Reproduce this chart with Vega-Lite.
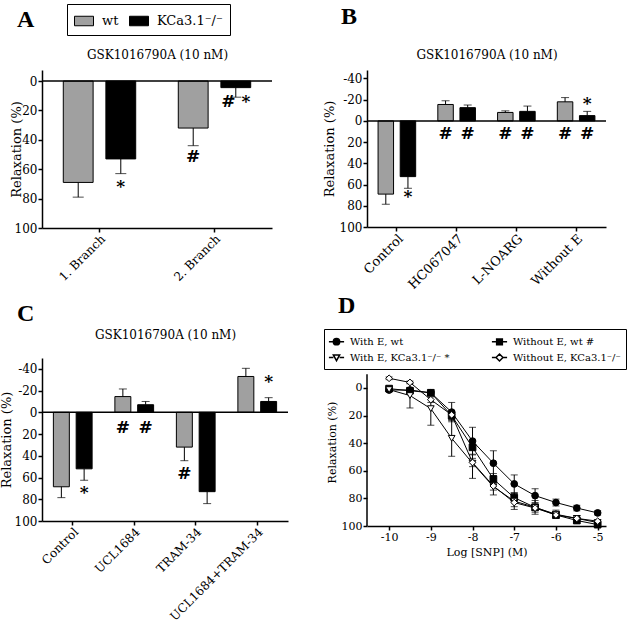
{
 "$schema": "https://vega.github.io/schema/vega-lite/v6.json",
 "background": "white",
 "padding": {"left": 0, "top": 3, "right": 0, "bottom": 0},
 "columns": 2,
 "bounds": "flush",
 "align": "each",
 "spacing": {"row": 130, "column": 79},
 "resolve": {"scale": {"fill": "independent", "shape": "independent", "xOffset": "independent"}},
 "datasets": {
  "A": [
   {"cat": "1. Branch", "g": "wt", "v": 69, "e": 79},
   {"cat": "1. Branch", "g": "KCa3.1⁻/⁻", "v": 53, "e": 63},
   {"cat": "2. Branch", "g": "wt", "v": 32, "e": 44},
   {"cat": "2. Branch", "g": "KCa3.1⁻/⁻", "v": 4.5, "e": 11}
  ],
  "At": [
   {"cat": "1. Branch", "g": "KCa3.1⁻/⁻", "y": 72, "t": "*"},
   {"cat": "2. Branch", "g": "wt", "y": 52, "t": "#"},
   {"cat": "2. Branch", "g": "KCa3.1⁻/⁻", "y": 14, "t": "# *"}
  ],
  "B": [
   {"cat": "Control", "g": "wt", "v": 69, "e": 78.5},
   {"cat": "Control", "g": "KCa3.1⁻/⁻", "v": 52.5, "e": 63.5},
   {"cat": "HC067047", "g": "wt", "v": -15.5, "e": -19},
   {"cat": "HC067047", "g": "KCa3.1⁻/⁻", "v": -12.5, "e": -15},
   {"cat": "L-NOARG", "g": "wt", "v": -8, "e": -9.5},
   {"cat": "L-NOARG", "g": "KCa3.1⁻/⁻", "v": -9, "e": -14},
   {"cat": "Without E", "g": "wt", "v": -18, "e": -22},
   {"cat": "Without E", "g": "KCa3.1⁻/⁻", "v": -5, "e": -9}
  ],
  "Bt": [
   {"cat": "Control", "g": "KCa3.1⁻/⁻", "y": 71.5, "t": "*"},
   {"cat": "HC067047", "g": "wt", "y": 12.5, "t": "#"},
   {"cat": "HC067047", "g": "KCa3.1⁻/⁻", "y": 12.5, "t": "#"},
   {"cat": "L-NOARG", "g": "wt", "y": 12.5, "t": "#"},
   {"cat": "L-NOARG", "g": "KCa3.1⁻/⁻", "y": 12.5, "t": "#"},
   {"cat": "Without E", "g": "wt", "y": 12.5, "t": "#"},
   {"cat": "Without E", "g": "KCa3.1⁻/⁻", "y": 12.5, "t": "#"},
   {"cat": "Without E", "g": "KCa3.1⁻/⁻", "y": -16, "t": "*"}
  ],
  "C": [
   {"cat": "Control", "g": "wt", "v": 68.5, "e": 78.5},
   {"cat": "Control", "g": "KCa3.1⁻/⁻", "v": 52, "e": 62.5},
   {"cat": "UCL1684", "g": "wt", "v": -14.5, "e": -21.5},
   {"cat": "UCL1684", "g": "KCa3.1⁻/⁻", "v": -7, "e": -10},
   {"cat": "TRAM-34", "g": "wt", "v": 32, "e": 44.5},
   {"cat": "TRAM-34", "g": "KCa3.1⁻/⁻", "v": 73, "e": 84},
   {"cat": "UCL1684+TRAM-34", "g": "wt", "v": -33, "e": -40.5},
   {"cat": "UCL1684+TRAM-34", "g": "KCa3.1⁻/⁻", "v": -10, "e": -13.5}
  ],
  "Ct": [
   {"cat": "Control", "g": "KCa3.1⁻/⁻", "y": 74, "t": "*"},
   {"cat": "UCL1684", "g": "wt", "y": 14.5, "t": "#"},
   {"cat": "UCL1684", "g": "KCa3.1⁻/⁻", "y": 14.5, "t": "#"},
   {"cat": "TRAM-34", "g": "wt", "y": 57, "t": "#"},
   {"cat": "UCL1684+TRAM-34", "g": "KCa3.1⁻/⁻", "y": -28, "t": "*"}
  ],
  "D": [
   {"s": "With E, wt", "x": -10, "y": 1.5, "err": 1},
   {"s": "With E, wt", "x": -9.5, "y": 1.5, "err": 1},
   {"s": "With E, wt", "x": -9, "y": 3.5, "err": 1},
   {"s": "With E, wt", "x": -8.5, "y": 17.5, "err": 7},
   {"s": "With E, wt", "x": -8, "y": 38.5, "err": 10},
   {"s": "With E, wt", "x": -7.5, "y": 54.5, "err": 9},
   {"s": "With E, wt", "x": -7, "y": 69.5, "err": 6.5},
   {"s": "With E, wt", "x": -6.5, "y": 78, "err": 5},
   {"s": "With E, wt", "x": -6, "y": 83, "err": 2.5},
   {"s": "With E, wt", "x": -5.5, "y": 87, "err": 2},
   {"s": "With E, wt", "x": -5, "y": 90.5, "err": 1.5},
   {"s": "Without E, wt", "x": -10, "y": 0.5, "err": 1},
   {"s": "Without E, wt", "x": -9.5, "y": 2, "err": 1},
   {"s": "Without E, wt", "x": -9, "y": 3.5, "err": 1},
   {"s": "Without E, wt", "x": -8.5, "y": 20, "err": 3},
   {"s": "Without E, wt", "x": -8, "y": 43, "err": 5},
   {"s": "Without E, wt", "x": -7.5, "y": 66, "err": 4},
   {"s": "Without E, wt", "x": -7, "y": 79.5, "err": 3},
   {"s": "Without E, wt", "x": -6.5, "y": 86.5, "err": 2},
   {"s": "Without E, wt", "x": -6, "y": 92, "err": 2},
   {"s": "Without E, wt", "x": -5.5, "y": 96, "err": 2},
   {"s": "Without E, wt", "x": -5, "y": 99, "err": 1},
   {"s": "With E, KCa3.1⁻/⁻", "x": -10, "y": 1.2, "err": 1},
   {"s": "With E, KCa3.1⁻/⁻", "x": -9.5, "y": 5.5, "err": 9},
   {"s": "With E, KCa3.1⁻/⁻", "x": -9, "y": 15, "err": 12},
   {"s": "With E, KCa3.1⁻/⁻", "x": -8.5, "y": 36.5, "err": 13},
   {"s": "With E, KCa3.1⁻/⁻", "x": -8, "y": 54.5, "err": 11},
   {"s": "With E, KCa3.1⁻/⁻", "x": -7.5, "y": 71.5, "err": 6},
   {"s": "With E, KCa3.1⁻/⁻", "x": -7, "y": 82, "err": 6},
   {"s": "With E, KCa3.1⁻/⁻", "x": -6.5, "y": 86.5, "err": 5},
   {"s": "With E, KCa3.1⁻/⁻", "x": -6, "y": 91.5, "err": 3},
   {"s": "With E, KCa3.1⁻/⁻", "x": -5.5, "y": 94.5, "err": 2},
   {"s": "With E, KCa3.1⁻/⁻", "x": -5, "y": 97.5, "err": 1.5},
   {"s": "Without E, KCa3.1⁻/⁻", "x": -10, "y": -7, "err": 1},
   {"s": "Without E, KCa3.1⁻/⁻", "x": -9.5, "y": -4, "err": 1},
   {"s": "Without E, KCa3.1⁻/⁻", "x": -9, "y": 8.5, "err": 2},
   {"s": "Without E, KCa3.1⁻/⁻", "x": -8.5, "y": 19.5, "err": 3},
   {"s": "Without E, KCa3.1⁻/⁻", "x": -8, "y": 54, "err": 3},
   {"s": "Without E, KCa3.1⁻/⁻", "x": -7.5, "y": 71, "err": 3},
   {"s": "Without E, KCa3.1⁻/⁻", "x": -7, "y": 83, "err": 3},
   {"s": "Without E, KCa3.1⁻/⁻", "x": -6.5, "y": 87, "err": 3},
   {"s": "Without E, KCa3.1⁻/⁻", "x": -6, "y": 92, "err": 2},
   {"s": "Without E, KCa3.1⁻/⁻", "x": -5.5, "y": 94.5, "err": 2},
   {"s": "Without E, KCa3.1⁻/⁻", "x": -5, "y": 96.5, "err": 1}
  ]
 },
 "concat": [
  {
   "width": 230, "height": 158,
   "title": {"text": "A", "anchor": "start", "frame": "group", "dx": -25, "offset": -28},
   "resolve": {"axis": {"x": "independent"}},
   "layer": [
    {"data": {"name": "A"}, "mark": {"type": "bar", "stroke": "black", "strokeWidth": 1},
     "encoding": {
      "x": {"field": "cat", "type": "nominal", "scale": {"domain": ["1. Branch", "2. Branch"], "paddingInner": 0, "paddingOuter": 0}, "axis": {"orient": "bottom", "title": null, "labelAngle": -45, "labelFontSize": 12}},
      "xOffset": {"field": "g", "type": "nominal", "scale": {"domain": ["wt", "KCa3.1⁻/⁻"], "paddingInner": 0.3, "paddingOuter": 0.5}},
      "y": {"field": "v", "type": "quantitative", "scale": {"domain": [-7.5, 100], "reverse": true, "nice": false, "zero": false}, "axis": {"title": "Relaxation (%)", "values": [0, 20, 40, 60, 80, 100], "tickCount": 20, "titlePadding": -9, "labelOverlap": false}},
      "y2": {"datum": 0},
      "fill": {"field": "g", "type": "nominal", "scale": {"domain": ["wt", "KCa3.1⁻/⁻"], "range": ["#a0a0a0", "#000000"]},
       "legend": {"orient": "none", "legendX": 25, "legendY": -66, "direction": "horizontal", "title": null, "strokeColor": "black", "padding": 7, "symbolType": "M-1,-0.5H1V0.5H-1Z", "symbolSize": 361, "symbolStrokeColor": "black", "symbolStrokeWidth": 1, "labelFontSize": 13, "labelOffset": 8, "columnPadding": 8}}
     }},
    {"data": {"name": "A"}, "mark": {"type": "rule", "color": "black", "strokeWidth": 1},
     "encoding": {
      "x": {"field": "cat", "type": "nominal", "scale": {"domain": ["1. Branch", "2. Branch"]}, "axis": {"orient": "top", "title": "GSK1016790A (10 nM)", "labels": false, "ticks": false, "domain": false, "titlePadding": 9, "titleFontSize": 12}},
      "xOffset": {"field": "g", "type": "nominal", "scale": {"domain": ["wt", "KCa3.1⁻/⁻"]}},
      "y": {"field": "v", "type": "quantitative", "title": "Relaxation (%)"}, "y2": {"field": "e"}
     }},
    {"data": {"name": "A"}, "mark": {"type": "tick", "color": "black", "thickness": 1, "size": 11},
     "encoding": {
      "x": {"field": "cat", "type": "nominal", "scale": {"domain": ["1. Branch", "2. Branch"]}, "axis": null},
      "xOffset": {"field": "g", "type": "nominal", "scale": {"domain": ["wt", "KCa3.1⁻/⁻"]}},
      "y": {"field": "e", "type": "quantitative", "title": "Relaxation (%)"}
     }},
    {"data": {"values": [{}]}, "mark": {"type": "rule", "color": "black", "strokeWidth": 1.5}, "encoding": {"y": {"datum": 0}}},
    {"data": {"name": "At"}, "mark": {"type": "text", "fontSize": 17, "fontWeight": "bold", "color": "black", "baseline": "middle"},
     "encoding": {
      "x": {"field": "cat", "type": "nominal", "scale": {"domain": ["1. Branch", "2. Branch"]}, "axis": null},
      "xOffset": {"field": "g", "type": "nominal", "scale": {"domain": ["wt", "KCa3.1⁻/⁻"]}},
      "y": {"field": "y", "type": "quantitative", "title": "Relaxation (%)"},
      "text": {"field": "t"}
     }}
   ]
  },
  {
   "width": 239, "height": 157,
   "title": {"text": "B", "anchor": "start", "frame": "group", "dx": -26, "offset": 19},
   "resolve": {"axis": {"x": "independent"}},
   "layer": [
    {"data": {"name": "B"}, "mark": {"type": "bar", "stroke": "black", "strokeWidth": 1},
     "encoding": {
      "x": {"field": "cat", "type": "nominal", "scale": {"domain": ["Control", "HC067047", "L-NOARG", "Without E"], "paddingInner": 0, "paddingOuter": 0}, "axis": {"orient": "bottom", "title": null, "labelAngle": -45, "labelFontSize": 13}},
      "xOffset": {"field": "g", "type": "nominal", "scale": {"domain": ["wt", "KCa3.1⁻/⁻"], "paddingInner": 0.3, "paddingOuter": 0.5}},
      "y": {"field": "v", "type": "quantitative", "scale": {"domain": [-48, 100], "reverse": true, "nice": false, "zero": false}, "axis": {"title": "Relaxation (%)", "values": [-40, -20, 0, 20, 40, 60, 80, 100], "tickCount": 20, "titlePadding": 3, "labelOverlap": false, "labelExpr": "datum.value < 0 ? '-' + abs(datum.value) : '' + datum.value"}},
      "y2": {"datum": 0},
      "fill": {"field": "g", "type": "nominal", "scale": {"domain": ["wt", "KCa3.1⁻/⁻"], "range": ["#a0a0a0", "#000000"]}, "legend": null}
     }},
    {"data": {"name": "B"}, "mark": {"type": "rule", "color": "black", "strokeWidth": 1},
     "encoding": {
      "x": {"field": "cat", "type": "nominal", "scale": {"domain": ["Control", "HC067047", "L-NOARG", "Without E"]}, "axis": {"orient": "top", "title": "GSK1016790A (10 nM)", "labels": false, "ticks": false, "domain": false, "titlePadding": 9, "titleFontSize": 12}},
      "xOffset": {"field": "g", "type": "nominal", "scale": {"domain": ["wt", "KCa3.1⁻/⁻"]}},
      "y": {"field": "v", "type": "quantitative", "title": "Relaxation (%)"}, "y2": {"field": "e"}
     }},
    {"data": {"name": "B"}, "mark": {"type": "tick", "color": "black", "thickness": 1, "size": 8},
     "encoding": {
      "x": {"field": "cat", "type": "nominal", "scale": {"domain": ["Control", "HC067047", "L-NOARG", "Without E"]}, "axis": null},
      "xOffset": {"field": "g", "type": "nominal", "scale": {"domain": ["wt", "KCa3.1⁻/⁻"]}},
      "y": {"field": "e", "type": "quantitative", "title": "Relaxation (%)"}
     }},
    {"data": {"values": [{}]}, "mark": {"type": "rule", "color": "black", "strokeWidth": 1.5}, "encoding": {"y": {"datum": 0}}},
    {"data": {"name": "Bt"}, "mark": {"type": "text", "fontSize": 17, "fontWeight": "bold", "color": "black", "baseline": "middle"},
     "encoding": {
      "x": {"field": "cat", "type": "nominal", "scale": {"domain": ["Control", "HC067047", "L-NOARG", "Without E"]}, "axis": null},
      "xOffset": {"field": "g", "type": "nominal", "scale": {"domain": ["wt", "KCa3.1⁻/⁻"]}},
      "y": {"field": "y", "type": "quantitative", "title": "Relaxation (%)"},
      "text": {"field": "t"}
     }}
   ]
  },
  {
   "width": 246, "height": 163,
   "title": {"text": "C", "anchor": "start", "frame": "group", "dx": -25, "offset": 2},
   "resolve": {"axis": {"x": "independent"}},
   "layer": [
    {"data": {"name": "C"}, "mark": {"type": "bar", "stroke": "black", "strokeWidth": 1},
     "encoding": {
      "x": {"field": "cat", "type": "nominal", "scale": {"domain": ["Control", "UCL1684", "TRAM-34", "UCL1684+TRAM-34"], "paddingInner": 0, "paddingOuter": 0}, "axis": {"orient": "bottom", "title": null, "labelAngle": -45, "labelFontSize": 12}},
      "xOffset": {"field": "g", "type": "nominal", "scale": {"domain": ["wt", "KCa3.1⁻/⁻"], "paddingInner": 0.3, "paddingOuter": 0.5}},
      "y": {"field": "v", "type": "quantitative", "scale": {"domain": [-50, 100], "reverse": true, "nice": false, "zero": false}, "axis": {"title": "Relaxation (%)", "values": [-40, -20, 0, 20, 40, 60, 80, 100], "tickCount": 20, "titlePadding": 1, "labelOverlap": false, "labelExpr": "datum.value < 0 ? '-' + abs(datum.value) : '' + datum.value"}},
      "y2": {"datum": 0},
      "fill": {"field": "g", "type": "nominal", "scale": {"domain": ["wt", "KCa3.1⁻/⁻"], "range": ["#a0a0a0", "#000000"]}, "legend": null}
     }},
    {"data": {"name": "C"}, "mark": {"type": "rule", "color": "black", "strokeWidth": 1},
     "encoding": {
      "x": {"field": "cat", "type": "nominal", "scale": {"domain": ["Control", "UCL1684", "TRAM-34", "UCL1684+TRAM-34"]}, "axis": {"orient": "top", "title": "GSK1016790A (10 nM)", "labels": false, "ticks": false, "domain": false, "titlePadding": 17, "titleFontSize": 12}},
      "xOffset": {"field": "g", "type": "nominal", "scale": {"domain": ["wt", "KCa3.1⁻/⁻"]}},
      "y": {"field": "v", "type": "quantitative", "title": "Relaxation (%)"}, "y2": {"field": "e"}
     }},
    {"data": {"name": "C"}, "mark": {"type": "tick", "color": "black", "thickness": 1, "size": 8},
     "encoding": {
      "x": {"field": "cat", "type": "nominal", "scale": {"domain": ["Control", "UCL1684", "TRAM-34", "UCL1684+TRAM-34"]}, "axis": null},
      "xOffset": {"field": "g", "type": "nominal", "scale": {"domain": ["wt", "KCa3.1⁻/⁻"]}},
      "y": {"field": "e", "type": "quantitative", "title": "Relaxation (%)"}
     }},
    {"data": {"values": [{}]}, "mark": {"type": "rule", "color": "black", "strokeWidth": 1.5}, "encoding": {"y": {"datum": 0}}},
    {"data": {"name": "Ct"}, "mark": {"type": "text", "fontSize": 17, "fontWeight": "bold", "color": "black", "baseline": "middle"},
     "encoding": {
      "x": {"field": "cat", "type": "nominal", "scale": {"domain": ["Control", "UCL1684", "TRAM-34", "UCL1684+TRAM-34"]}, "axis": null},
      "xOffset": {"field": "g", "type": "nominal", "scale": {"domain": ["wt", "KCa3.1⁻/⁻"]}},
      "y": {"field": "y", "type": "quantitative", "title": "Relaxation (%)"},
      "text": {"field": "t"}
     }}
   ]
  },
  {
   "width": 239, "height": 168,
   "title": {"text": "D", "anchor": "start", "frame": "group", "dx": -29, "offset": 11},
   "resolve": {"scale": {"shape": "independent", "fill": "independent"}},
   "layer": [
    {"data": {"values": [{}]}, "mark": {"type": "rule", "color": "black", "strokeWidth": 1.5},
     "encoding": {"x": {"datum": -10.53, "type": "quantitative"}, "y": {"datum": -10, "type": "quantitative"}, "y2": {"datum": 100}}},
    {"data": {"name": "D"}, "mark": {"type": "errorbar", "ticks": true, "size": 7, "thickness": 1, "color": "black"},
     "encoding": {
      "x": {"field": "x", "type": "quantitative", "title": "Log [SNP] (M)"},
      "y": {"field": "y", "type": "quantitative", "title": "Relaxation (%)"},
      "yError": {"field": "err"}
     }},
    {"data": {"name": "D"}, "mark": {"type": "line", "color": "black", "strokeWidth": 1},
     "encoding": {
      "x": {"field": "x", "type": "quantitative", "title": "Log [SNP] (M)"},
      "y": {"field": "y", "type": "quantitative", "title": "Relaxation (%)"},
      "detail": {"field": "s"}
     }},
    {"data": {"name": "D"}, "mark": {"type": "point", "filled": true, "stroke": "black", "strokeWidth": 1, "size": 45, "opacity": 1},
     "encoding": {
      "x": {"field": "x", "type": "quantitative", "scale": {"domain": [-10.53, -4.8], "nice": false, "zero": false}, "axis": {"title": "Log [SNP] (M)", "values": [-10, -9, -8, -7, -6, -5], "tickCount": 20, "labelFontSize": 11, "titleFontSize": 11, "titlePadding": 4, "labelExpr": "datum.value < 0 ? '-' + abs(datum.value) : '' + datum.value"}},
      "y": {"field": "y", "type": "quantitative", "title": "Relaxation (%)", "scale": {"domain": [-21.7, 100], "reverse": true, "nice": false, "zero": false}, "axis": {"title": "Relaxation (%)", "values": [0, 20, 40, 60, 80, 100], "tickCount": 20, "domain": false, "labelFontSize": 11, "titleFontSize": 11, "titlePadding": 4, "labelOverlap": false}},
      "shape": {"field": "s", "type": "nominal", "scale": {"domain": ["With E, wt", "With E, KCa3.1⁻/⁻", "Without E, wt", "Without E, KCa3.1⁻/⁻"], "range": ["circle", "triangle-down", "square", "diamond"]}, "legend": null},
      "fill": {"field": "s", "type": "nominal", "scale": {"domain": ["With E, wt", "With E, KCa3.1⁻/⁻", "Without E, wt", "Without E, KCa3.1⁻/⁻"], "range": ["black", "white", "black", "white"]}, "legend": null}
     }},
    {"data": {"values": []}, "mark": {"type": "point", "filled": true, "stroke": "black", "strokeWidth": 1, "opacity": 1},
     "encoding": {
      "x": {"field": "x", "type": "quantitative", "title": "Log [SNP] (M)"},
      "y": {"field": "y", "type": "quantitative", "title": "Relaxation (%)"},
      "shape": {"field": "s", "type": "nominal", "scale": {"domain": ["With E, wt", "With E, KCa3.1⁻/⁻", "Without E, wt", "Without E, KCa3.1⁻/⁻"],
        "range": ["M-1.2,0H-0.5M0.5,0H1.2M-0.5,0A0.5,0.5 0 1,0 0.5,0A0.5,0.5 0 1,0 -0.5,0Z", "M-1.2,0H-0.5M0.5,0H1.2M-0.5,-0.4H0.5L0,0.5Z", "M-1.2,0H-0.45M0.45,0H1.2M-0.45,-0.45H0.45V0.45H-0.45Z", "M-1.2,0H-0.55M0.55,0H1.2M-0.55,0L0,-0.55L0.55,0L0,0.55Z"]},
       "legend": {"orient": "none", "legendX": -43, "legendY": -29, "columns": 2, "title": null, "strokeColor": "black", "padding": 5, "labelFontSize": 10, "symbolSize": 160, "columnPadding": 25, "rowPadding": 2, "labelOffset": 6,
        "labelExpr": "datum.label == 'Without E, wt' ? datum.label + '    #' : (datum.label == 'With E, KCa3.1⁻/⁻' ? datum.label + '     *' : datum.label)",
        "encode": {"symbols": {"update": {"stroke": {"value": "black"}, "strokeWidth": {"value": 1}}}}}},
      "fill": {"field": "s", "type": "nominal", "scale": {"domain": ["With E, wt", "With E, KCa3.1⁻/⁻", "Without E, wt", "Without E, KCa3.1⁻/⁻"], "range": ["black", "white", "black", "white"]},
       "legend": {"orient": "none", "legendX": -43, "legendY": -29, "columns": 2, "title": null, "strokeColor": "black", "padding": 5, "labelFontSize": 10, "symbolSize": 160, "columnPadding": 25, "rowPadding": 2, "labelOffset": 6,
        "labelExpr": "datum.label == 'Without E, wt' ? datum.label + '    #' : (datum.label == 'With E, KCa3.1⁻/⁻' ? datum.label + '     *' : datum.label)",
        "encode": {"symbols": {"update": {"stroke": {"value": "black"}, "strokeWidth": {"value": 1}}}}}}
     }}
   ]
  }
 ],
 "config": {
  "font": "DejaVu Serif",
  "view": {"stroke": null},
  "axis": {"domainColor": "black", "domainWidth": 1.5, "tickColor": "black", "tickWidth": 1.5, "tickSize": 4, "labelColor": "black", "titleColor": "black", "labelFontSize": 12, "titleFontSize": 13, "titleFontWeight": "normal", "grid": false, "labelPadding": 1, "labelOverlap": false, "labelFont": "DejaVu Serif", "titleFont": "DejaVu Serif"},
  "legend": {"labelFont": "DejaVu Serif", "labelColor": "black"},
  "title": {"font": "Liberation Serif", "fontSize": 24, "fontWeight": "bold", "color": "black"}
 }
}
